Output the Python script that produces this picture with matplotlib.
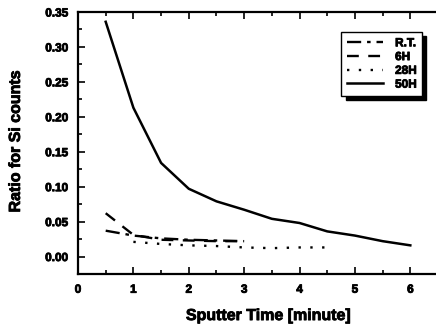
import matplotlib
matplotlib.use("Agg")
import matplotlib.pyplot as plt
import matplotlib.patheffects as pe
from matplotlib.ticker import MultipleLocator

plt.rcParams['font.family'] = ['Liberation Sans', 'DejaVu Sans']
plt.rcParams['font.weight'] = 'bold'

x_rt = [0.5, 1.0, 1.5, 2.0, 2.5, 3.0]
y_rt = [0.037, 0.030, 0.026, 0.024, 0.023, 0.022]
x_6h = [0.5, 1.0, 1.5, 2.0, 2.5, 3.0]
y_6h = [0.062, 0.031, 0.024, 0.023, 0.022, 0.022]
x_28h = [1.0, 1.5, 2.0, 2.5, 3.0, 3.5, 4.0, 4.5]
y_28h = [0.021, 0.018, 0.016, 0.015, 0.013, 0.012, 0.013, 0.013]
x_50h = [0.5, 1.0, 1.5, 2.0, 2.5, 3.0, 3.5, 4.0, 4.5, 5.0, 5.5, 6.0]
y_50h = [0.336, 0.213, 0.134, 0.097, 0.079, 0.067, 0.054, 0.048, 0.036, 0.030, 0.022, 0.016]
labels = ['R.T.', '6H', '28H', '50H']
xticks = [0, 1, 2, 3, 4, 5, 6]
yticks = [0.0, 0.05, 0.10, 0.15, 0.20, 0.25, 0.30, 0.35]
yticklabels = ['0.00', '0.05', '0.10', '0.15', '0.20', '0.25', '0.30', '0.35']

heavy = [pe.withStroke(linewidth=0.6, foreground='black')]

fig = plt.figure(figsize=(4.36, 3.27), dpi=100)
ax = fig.add_axes([78/436, 53/327, 360/436, 262/327])

ax.plot(x_rt, y_rt, color='black', lw=1.7, linestyle=(0, (6, 2.5, 1.5, 2.5)), label=labels[0])
ax.plot(x_6h, y_6h, color='black', lw=1.7, linestyle=(0, (5, 4)), label=labels[1])
ax.plot(x_28h, y_28h, color='black', lw=1.7, linestyle=(0, (1, 4)), label=labels[2])
ax.plot(x_50h, y_50h, color='black', lw=1.8, linestyle='-', label=labels[3])

ax.set_xlim(0, 6.5)
ax.set_ylim(-0.025, 0.35)
ax.xaxis.set_minor_locator(MultipleLocator(0.5))
ax.yaxis.set_minor_locator(MultipleLocator(0.025))
ax.set_xticks(xticks)
ax.set_yticks(yticks)
ax.set_yticklabels(yticklabels)
ax.tick_params(which='both', direction='in', top=True, right=False, labelsize=8.5, width=1.2)
ax.tick_params(which='major', length=5)
ax.tick_params(which='minor', length=3)
ax.tick_params(axis='y', pad=7)
ax.tick_params(axis='x', pad=7)
for lab in ax.get_xticklabels() + ax.get_yticklabels():
    lab.set_fontweight('bold')
    lab.set_path_effects(heavy)
ax.spines['right'].set_visible(False)
for s in ['left', 'bottom', 'top']:
    ax.spines[s].set_linewidth(1.6)

xl = ax.set_xlabel('Sputter Time [minute]', fontsize=11.5, fontweight='bold')
ax.xaxis.set_label_coords(0.53, -0.13)
yl = ax.set_ylabel('Ratio for Si counts', fontsize=11.5, fontweight='bold')
ax.yaxis.set_label_coords(-0.153, 0.508)
xl.set_path_effects(heavy)
yl.set_path_effects(heavy)

leg = ax.legend(loc='upper right', bbox_to_anchor=(0.9556, 0.9237), borderaxespad=0,
                fontsize=8.5, frameon=True, fancybox=False, edgecolor='black', framealpha=1,
                shadow={'color': 'black', 'alpha': 1, 'ox': 3, 'oy': -3}, handlelength=3.1,
                borderpad=0.45, labelspacing=0.15, handletextpad=1.0)
leg.get_frame().set_linewidth(1.0)
for t in leg.get_texts():
    t.set_fontweight('bold')
    t.set_path_effects(heavy)

fig.savefig('out.png', dpi=100)
